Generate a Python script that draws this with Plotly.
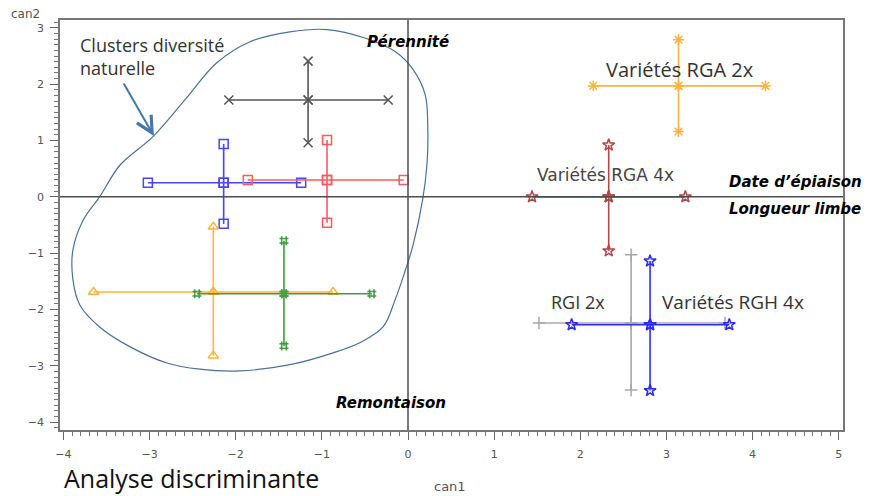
"""
Analyse discriminante - canonical plot (can1 x can2)
Group centroids with their spread along each canonical axis
"""

import plotly.graph_objects as go

# group centroids and extremes (can1, can2)
groups = ['noir', 'bleu', 'rouge', 'orange', 'vert', 'RGA 2x', 'RGA 4x', 'RGI 2x', 'RGH 4x']
cx = [-1.16, -2.14, -0.94, -2.26, -1.44, 3.14, 2.33, 2.59, 2.81]
cy = [1.72, 0.25, 0.30, -1.69, -1.72, 1.97, 0.00, -2.24, -2.27]
x_lo = [-2.08, -3.02, -1.86, -3.65, -2.45, 2.15, 1.44, 1.52, 1.90]
x_hi = [-0.23, -1.24, -0.05, -0.87, -0.42, 4.15, 3.22, 3.68, 3.73]
y_lo = [0.96, -0.48, -0.46, -2.82, -2.65, 1.16, -0.96, -3.43, -3.44]
y_hi = [2.41, 0.94, 1.01, -0.53, -0.78, 2.79, 0.92, -1.03, -1.14]

colors = ['#555555', '#4545ff', '#ff5a5a', '#ffb53d', '#3d9e3d',
          '#ffb53d', '#b04848', '#a8a8a8', '#2b2bff']
symbols = ['x-thin-open', 'square-open', 'square-open', 'triangle-up-open', 'hash-open',
           'asterisk-open', 'star-open', 'cross-thin-open', 'star-open']

# outline of the "natural diversity" cluster
blob_x = [-3.58, -3.34, -2.96, -2.59, -2.22, -1.84, -1.37, -0.94, -0.50, -0.15, 0.06, 0.20,
          0.23, 0.22, 0.17, 0.06, -0.03, -0.15, -0.29, -0.56, -0.87, -1.37, -1.95, -2.42,
          -2.80, -3.23, -3.58, -3.81, -3.89, -3.89, -3.77, -3.58]
blob_y = [0.00, 0.57, 1.07, 1.72, 2.38, 2.75, 2.93, 2.97, 2.82, 2.58, 2.26, 1.81,
          1.19, 0.57, -0.05, -0.85, -1.30, -1.83, -2.31, -2.59, -2.77, -2.98, -3.09, -3.06,
          -2.95, -2.66, -2.31, -1.92, -1.47, -0.94, -0.41, 0.00]

fig = go.Figure()

fig.add_trace(go.Scatter(
    x=blob_x, y=blob_y, mode='lines',
    line=dict(color='#4a6f9c', width=1.2, shape='spline', smoothing=1.0),
    hoverinfo='skip', showlegend=False
))

for i in range(len(groups)):
    xs = [x_lo[i], cx[i], x_hi[i], None, cx[i], cx[i], cx[i]]
    ys = [cy[i], cy[i], cy[i], None, y_hi[i], cy[i], y_lo[i]]
    fig.add_trace(go.Scatter(
        x=xs, y=ys, mode='lines+markers', name=groups[i],
        line=dict(color=colors[i], width=1.6),
        marker=dict(symbol=symbols[i], size=9, color=colors[i],
                    line=dict(color=colors[i], width=1.5)),
        showlegend=False, cliponaxis=False
    ))

# reference lines at the origin
fig.add_shape(type='line', x0=0, x1=0, y0=0, y1=1, xref='x', yref='paper',
              line=dict(color='#4d4d4d', width=1.5))
fig.add_shape(type='line', x0=0, x1=1, y0=0, y1=0, xref='paper', yref='y',
              line=dict(color='#4d4d4d', width=1.5))

lbl = dict(family='Open Sans, sans-serif', size=18, color='#333333')
big = dict(family='Open Sans, sans-serif', size=20, color='#333333')
bi = dict(family='DejaVu Sans, sans-serif', size=15, color='#000000')

fig.add_annotation(x=-3.83, y=2.49, text='Clusters diversité<br>naturelle', showarrow=False,
                   xanchor='left', align='left', font=lbl)
fig.add_annotation(x=-2.95, y=1.08, ax=-3.31, ay=2.04, axref='x', ayref='y', text='',
                   showarrow=True, arrowhead=5, arrowsize=1.6, arrowwidth=2, arrowcolor='#4277b0')

fig.add_annotation(x=0.0, y=2.75, text='<b><i>Pérennité</i></b>', showarrow=False, font=bi)
fig.add_annotation(x=-0.20, y=-3.66, text='<b><i>Remontaison</i></b>', showarrow=False, font=bi)
fig.add_annotation(x=3.70, y=0.27, text='<b><i>Date d’épiaison</i></b>', showarrow=False,
                   xanchor='left', font=bi)
fig.add_annotation(x=3.70, y=-0.21, text='<b><i>Longueur limbe</i></b>', showarrow=False,
                   xanchor='left', font=bi)

fig.add_annotation(x=3.16, y=2.27, text='Variétés RGA 2x', showarrow=False, font=big)
fig.add_annotation(x=2.29, y=0.39, text='Variétés RGA 4x', showarrow=False,
                   font=dict(family='DejaVu Sans, sans-serif', size=17, color='#444444'))
fig.add_annotation(x=1.97, y=-1.86, text='RGI 2x', showarrow=False, font=lbl)
fig.add_annotation(x=3.77, y=-1.86, text='Variétés RGH 4x', showarrow=False,
                   font=dict(family='Open Sans, sans-serif', size=19, color='#333333'))

fig.add_annotation(x=0.004, y=-0.161, xref='paper', yref='paper', text='Analyse discriminante',
                   showarrow=False, xanchor='left', yanchor='bottom', borderpad=0,
                   font=dict(family='Open Sans, sans-serif', size=25, color='#111111'))
fig.add_annotation(x=0.49, y=-0.139, xref='x', yref='paper', text='can1', showarrow=False,
                   yanchor='middle', font=dict(family='DejaVu Sans', size=13, color='#555555'))
fig.add_annotation(x=-0.023, y=1.015, xref='paper', yref='paper', text='can2', showarrow=False,
                   xanchor='right', yanchor='middle',
                   font=dict(family='DejaVu Sans', size=12, color='#555555'))

axis_common = dict(
    showgrid=False, zeroline=False,
    showline=True, linecolor='#777777', linewidth=1.5, mirror=True,
    ticks='outside', ticklen=8, tickcolor='#666666', tickwidth=1,
    tickfont=dict(family='DejaVu Sans', size=11, color='#555555'),
    dtick=1, automargin=False,
)

# the page body adds an 8px offset, margins are shifted to compensate
fig.update_layout(
    width=870, height=496,
    margin=dict(l=52, r=35, t=12, b=74),
    plot_bgcolor='white', paper_bgcolor='white',
    xaxis=dict(range=[-4.04, 5.05], tick0=-4, ticklabelstandoff=5,
               minor=dict(ticks='outside', ticklen=4, dtick=0.1, tickcolor='#777777'),
               **axis_common),
    yaxis=dict(range=[-4.14, 3.14], tick0=-4, ticklabelstandoff=4,
               minor=dict(ticks='outside', ticklen=4, dtick=0.1, tickcolor='#777777'),
               **axis_common),
)

fig.write_html("out.html")
